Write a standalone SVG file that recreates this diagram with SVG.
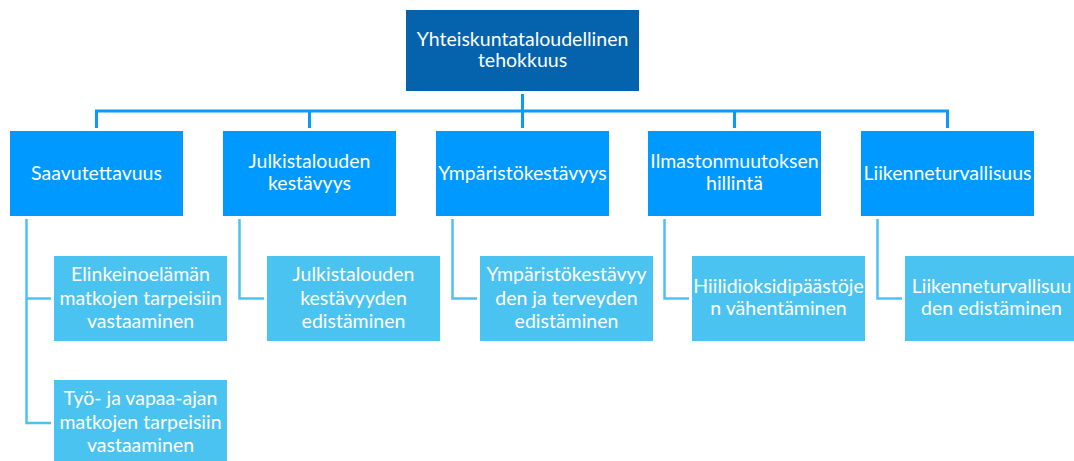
<svg xmlns="http://www.w3.org/2000/svg" width="1074" height="461" viewBox="0 0 1074 461">
<style>
text{font-family:Lato,"Open Sans","Liberation Sans",sans-serif;font-size:19.5px;fill:#ffffff;text-anchor:middle}
.top{fill:#0563AD}
.l1{fill:#0099FF}
.l2{fill:#4BC3F0}
.bus{fill:none;stroke:#0A9BF8;stroke-width:3}
.sub{fill:none;stroke:#4BC3F0;stroke-width:2.5}
</style>
<rect width="1074" height="461" fill="#ffffff"/>
<g id="connectors">
<path class="bus" d="M522.5,94 V128 M96.5,128 V111 H947.5 V128 M309.5,111 V128 M734.5,111 V128"/>
<path class="sub" d="M26.5,219 V423 H51 M26.5,298.5 H51"/>
<path class="sub" d="M239.5,219 V298.5 H264"/>
<path class="sub" d="M452.5,219 V298.5 H477"/>
<path class="sub" d="M664.5,219 V298.5 H689"/>
<path class="sub" d="M877.5,219 V298.5 H902"/>
</g>
<g id="n-root"><rect class="top" x="406" y="10" width="233" height="81"/><text x="522.5" y="45.5">Yhteiskuntataloudellinen</text><text x="522.5" y="66.5">tehokkuus</text></g>
<g id="n-saav"><rect class="l1" x="10" y="131" width="173" height="85"/><text x="96.5" y="180">Saavutettavuus</text></g>
<g id="n-julk"><rect class="l1" x="223" y="131" width="173" height="85"/><text x="309.5" y="168">Julkistalouden</text><text x="309.5" y="190">kestävyys</text></g>
<g id="n-ymp"><rect class="l1" x="436" y="131" width="173" height="85"/><text x="522.5" y="180">Ympäristökestävyys</text></g>
<g id="n-ilm"><rect class="l1" x="648" y="131" width="173" height="85"/><text x="734.5" y="168">Ilmastonmuutoksen</text><text x="734.5" y="190">hillintä</text></g>
<g id="n-liik"><rect class="l1" x="861" y="131" width="173" height="85"/><text x="947.5" y="180">Liikenneturvallisuus</text></g>
<g id="n-elink"><rect class="l2" x="54" y="256" width="173" height="85"/><text x="140.5" y="281">Elinkeinoelämän</text><text x="140.5" y="304.5">matkojen tarpeisiin</text><text x="140.5" y="328">vastaaminen</text></g>
<g id="n-tyo"><rect class="l2" x="54" y="380" width="173" height="85"/><text x="140.5" y="405">Työ- ja vapaa-ajan</text><text x="140.5" y="428.5">matkojen tarpeisiin</text><text x="140.5" y="452">vastaaminen</text></g>
<g id="n-julk2"><rect class="l2" x="267" y="256" width="173" height="85"/><text x="353.5" y="281">Julkistalouden</text><text x="353.5" y="304.5">kestävyyden</text><text x="353.5" y="328">edistäminen</text></g>
<g id="n-ymp2"><rect class="l2" x="480" y="256" width="173" height="85"/><text x="566.5" y="281">Ympäristökestävyy</text><text x="566.5" y="304.5">den ja terveyden</text><text x="566.5" y="328">edistäminen</text></g>
<g id="n-hiili"><rect class="l2" x="692" y="256" width="173" height="85"/><text x="778.5" y="293.3">Hiilidioksidipäästöje</text><text x="778.5" y="315">n vähentäminen</text></g>
<g id="n-liik2"><rect class="l2" x="905" y="256" width="173" height="85"/><text x="991.5" y="293.3">Liikenneturvallisuu</text><text x="991.5" y="315">den edistäminen</text></g>
</svg>
